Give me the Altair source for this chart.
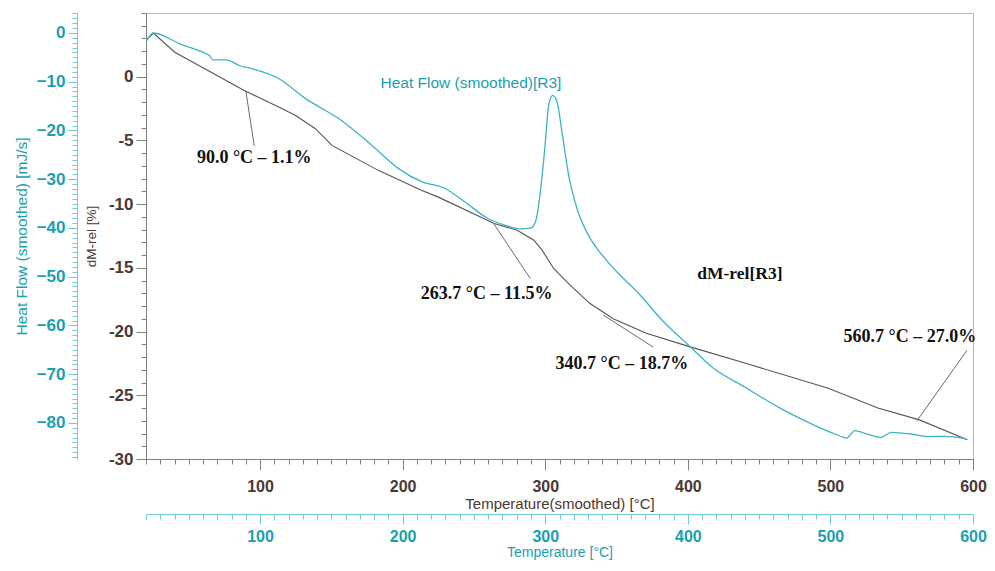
import altair as alt
import pandas as pd

# ---- data ----
# dM-rel [%] vs Temperature(smoothed) [°C]
dm_temp = [20.7, 25.1, 40.2, 88.9, 115.6, 124.9, 138.8, 150.4, 182.9, 213.1, 224.7,
           264.2, 280.4, 292.0, 297.8, 305.9, 317.5, 331.4, 347.7, 370.9, 401.1,
           440.5, 498.5, 533.3, 562.4, 596.0]
dm_val = [2.91, 3.43, 1.92, -1.08, -2.52, -3.04, -4.08, -5.39, -7.35, -8.91, -9.43,
          -11.52, -12.05, -12.83, -13.61, -15.05, -16.35, -17.8, -19.0, -20.14, -21.18,
          -22.49, -24.44, -26.0, -26.93, -28.49]

# Heat Flow (smoothed) [mJ/s] vs Temperature [°C]
hf_temp = [20.5, 25.1, 43.7, 62.3, 64.6, 66.9, 76.2, 85.5, 94.5, 113.3, 131.9, 155.1,
           178.3, 196.9, 213.1, 229.4, 243.3, 259.5, 271.1, 282.7, 289.7, 293.2, 296.6,
           300.1, 302.4, 305.2, 308.3, 311.7, 316.4, 322.2, 331.4, 336.1, 347.7, 366.2, 382.5,
           401.1, 417.3, 440.5, 463.7, 487.0, 503.2, 511.3, 517.2, 524.1, 535.7, 542.7,
           556.6, 568.2, 579.8, 592.5, 596.0]
hf_val = [-1.56, 0.0, -2.23, -4.28, -4.62, -5.5, -5.5, -6.67, -7.34, -9.39, -13.47, -17.56,
          -23.01, -27.78, -30.5, -31.86, -34.58, -38.0, -39.36, -40.18, -40.04, -38.67, -32.54,
          -22.32, -14.84, -12.8, -14.15, -20.28, -29.15, -35.95, -42.08, -44.12, -48.21, -53.66, -59.1,
          -64.21, -68.64, -72.73, -76.82, -80.23, -82.27, -83.09, -81.58, -82.13, -82.95, -81.92,
          -82.27, -82.81, -82.74, -83.09, -83.4]

# annotations (mass loss steps)
ann_text = ["90.0 °C – 1.1%", "263.7 °C – 11.5%", "340.7 °C – 18.7%", "560.7 °C – 27.0%"]
ann_pt_t = [90.0, 263.7, 340.7, 560.7]
ann_pt_v = [-1.1, -11.5, -18.7, -27.0]
ann_end_t = [95.9, 289.5, 375.8, 595.8]
ann_end_v = [-5.42, -15.83, -21.23, -21.47]
ann_txt_t = [95.9, 258.9, 353.7, 555.7]
ann_txt_v = [-6.35, -17.08, -22.51, -20.43]

series_dm_label = ["dM-rel[R3]"]
series_dm_t = [436.5]
series_dm_v = [-15.46]
series_hf_label = ["Heat Flow (smoothed)[R3]"]
series_hf_t = [247.9]
series_hf_v = [-10.24]

T_DOMAIN = [20, 600]
DM_DOMAIN = [-30, 5]
HF_DOMAIN = [-87.4, 4.1]

x_ticks = list(range(20, 601, 10))
dm_ticks = [round(-30 + 0.5 * i, 1) for i in range(71)]
hf_ticks = list(range(-87, 5))

BROWN = "#4a3833"
TEAL_TXT = "#1a9fb0"
TEAL_LINE = "#3cb4c4"
TEAL_AXIS = "#6fcad6"
GRAY_AXIS = "#808080"

def cond(test, big, small):
    return {"condition": {"test": test, "value": big}, "value": small}

x_scale = alt.Scale(domain=T_DOMAIN, nice=False, zero=False)
dm_scale = alt.Scale(domain=DM_DOMAIN, nice=False, zero=False)
hf_scale = alt.Scale(domain=HF_DOMAIN, nice=False, zero=False)

x_axis_dm = alt.Axis(
    values=x_ticks, orient="bottom", grid=False, format="d",
    labelExpr="datum.value % 100 === 0 ? datum.label : ''",
    tickSize=cond("datum.value % 100 === 0", 11, 5),
    labelPadding=8, labelFlush=False, labelOverlap=False,
    labelFont="Liberation Sans", labelFontWeight="bold", labelFontSize=16, labelColor=BROWN,
    domainColor=GRAY_AXIS, tickColor=GRAY_AXIS,
    title="Temperature(smoothed)  [°C]", titleFont="Liberation Sans", titleFontWeight="normal",
    titleFontSize=15, titleColor=BROWN, titlePadding=2,
)
x_axis_hf = alt.Axis(
    values=x_ticks, orient="bottom", grid=False, offset=55, format="d",
    labelExpr="datum.value % 100 === 0 ? datum.label : ''",
    tickSize=cond("datum.value % 100 === 0", 10, 5),
    labelPadding=4, labelFlush=False, labelOverlap=False,
    labelFont="Liberation Sans", labelFontWeight="bold", labelFontSize=16, labelColor=TEAL_TXT,
    domainColor=TEAL_AXIS, tickColor=TEAL_AXIS,
    title="Temperature  [°C]", titleFont="Liberation Sans", titleFontWeight="normal",
    titleFontSize=14, titleColor=TEAL_TXT, titlePadding=1,
)
y_axis_dm = alt.Axis(
    values=dm_ticks, orient="left", grid=False, format="d",
    labelExpr="(datum.value % 5 === 0 && datum.value < 5) ? replace(datum.label, '−', '-') : ''",
    tickSize=cond("datum.value % 5 === 0 && datum.value < 5", 10, 5),
    labelPadding=3, labelFlush=False, labelOverlap=False,
    labelFont="Liberation Sans", labelFontWeight="bold", labelFontSize=17, labelColor=BROWN,
    domainColor=GRAY_AXIS, tickColor=GRAY_AXIS,
    title="dM-rel  [%]", titleFont="Liberation Sans", titleFontWeight="normal",
    titleFontSize=13.5, titleColor=BROWN, titlePadding=10,
)
y_axis_hf = alt.Axis(
    values=hf_ticks, orient="left", grid=False, offset=69, format="d",
    labelExpr="datum.value % 10 === 0 ? datum.label : ''",
    tickSize=cond("datum.value % 10 === 0", 9, 5),
    labelPadding=3, labelFlush=False, labelOverlap=False,
    labelFont="Liberation Sans", labelFontWeight="bold", labelFontSize=17, labelColor=TEAL_TXT,
    domainColor=TEAL_AXIS, tickColor=TEAL_AXIS,
    title="Heat Flow (smoothed)  [mJ/s]", titleFont="Liberation Sans", titleFontWeight="normal",
    titleFontSize=15.5, titleColor=TEAL_TXT, titlePadding=7,
)

dm_df = pd.DataFrame({"T": dm_temp, "v": dm_val})
hf_df = pd.DataFrame({"T": hf_temp, "v": hf_val})
ann_df = pd.DataFrame({"text": ann_text, "T": ann_pt_t, "v": ann_pt_v,
                       "T2": ann_end_t, "v2": ann_end_v,
                       "Tt": ann_txt_t, "vt": ann_txt_v})
dml_df = pd.DataFrame({"text": series_dm_label, "T": series_dm_t, "v": series_dm_v})
hfl_df = pd.DataFrame({"text": series_hf_label, "T": series_hf_t, "v": series_hf_v})

dm_line = alt.Chart(dm_df).mark_line(color="#555555", strokeWidth=1.1).encode(
    x=alt.X("T:Q", scale=x_scale, axis=x_axis_dm),
    y=alt.Y("v:Q", scale=dm_scale, axis=y_axis_dm),
)
leaders = alt.Chart(ann_df).mark_rule(color="#6a6a6a", strokeWidth=1).encode(
    x=alt.X("T:Q", scale=x_scale, axis=x_axis_dm),
    y=alt.Y("v:Q", scale=dm_scale, axis=y_axis_dm),
    x2="T2:Q", y2="v2:Q",
)
ann_texts = alt.Chart(ann_df).mark_text(
    font="Liberation Serif", fontWeight="bold", fontSize=18, color="#111111",
    align="center", baseline="middle",
).encode(
    x=alt.X("Tt:Q", scale=x_scale, axis=x_axis_dm),
    y=alt.Y("vt:Q", scale=dm_scale, axis=y_axis_dm),
    text="text:N",
)
dm_label = alt.Chart(dml_df).mark_text(
    font="Liberation Serif", fontWeight="bold", fontSize=17.5, color="#111111",
    align="center", baseline="middle",
).encode(
    x=alt.X("T:Q", scale=x_scale, axis=x_axis_dm),
    y=alt.Y("v:Q", scale=dm_scale, axis=y_axis_dm),
    text="text:N",
)
dm_group = alt.layer(dm_line, leaders, ann_texts, dm_label)

hf_line = alt.Chart(hf_df).mark_line(color=TEAL_LINE, strokeWidth=1.3, interpolate="monotone").encode(
    x=alt.X("T:Q", scale=x_scale, axis=x_axis_hf),
    y=alt.Y("v:Q", scale=hf_scale, axis=y_axis_hf),
)
hf_label = alt.Chart(hfl_df).mark_text(
    font="Liberation Sans", fontSize=15.5, color=TEAL_TXT, align="center", baseline="middle",
).encode(
    x=alt.X("T:Q", scale=x_scale, axis=x_axis_hf),
    y=alt.Y("v:Q", scale=hf_scale, axis=y_axis_hf),
    text="text:N",
)
hf_group = alt.layer(hf_line, hf_label)

chart = alt.layer(dm_group, hf_group).resolve_scale(
    x="independent", y="independent"
).properties(
    width=827, height=446,
    autosize=alt.AutoSizeParams(type="none"),
    padding={"left": 138, "top": 5, "right": 14, "bottom": 103},
    background="white",
).configure_view(stroke="#b5b5b5", strokeWidth=1)

chart.save("out.html", embed_options={"renderer": "svg", "actions": False})
